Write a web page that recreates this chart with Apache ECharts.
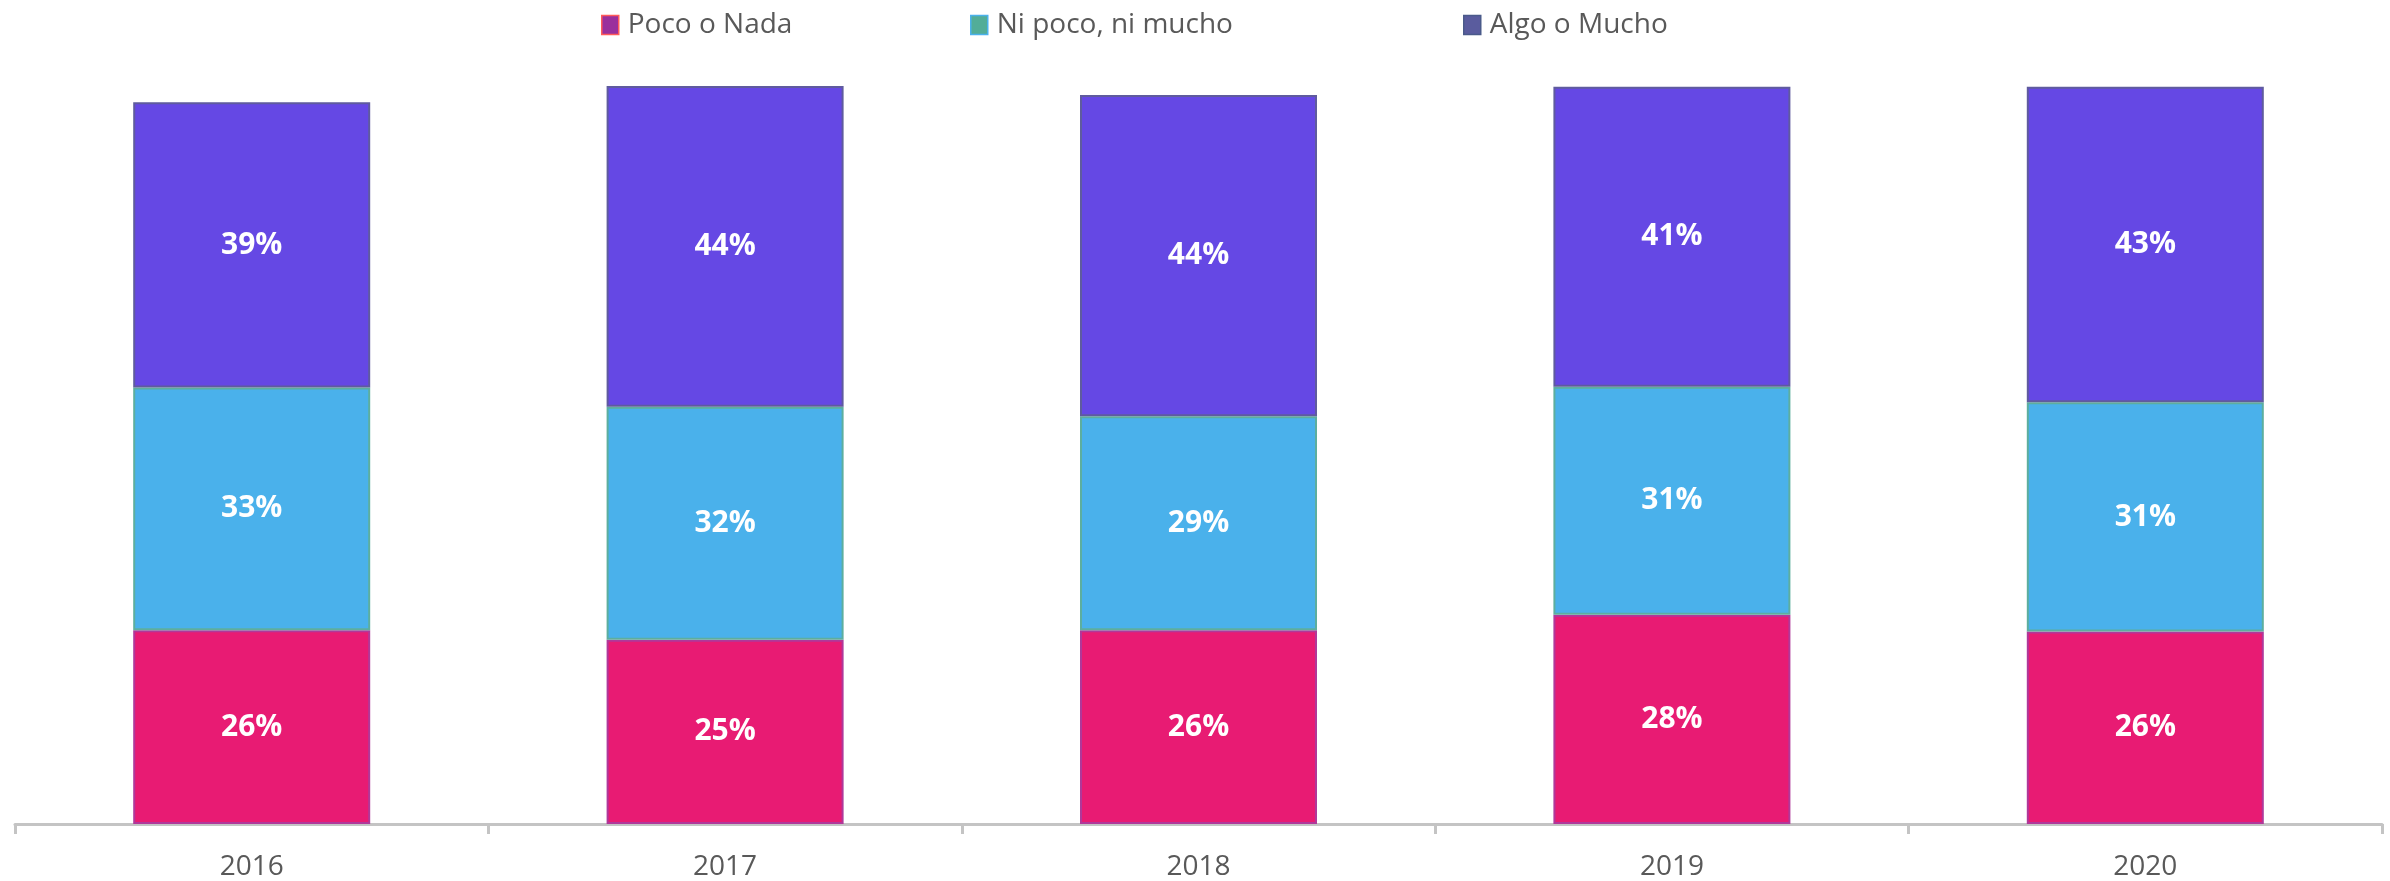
<!DOCTYPE html>
<html>
<head>
<meta charset="utf-8">
<title>Poco o Nada / Ni poco, ni mucho / Algo o Mucho</title>
<script src="https://cdn.jsdelivr.net/npm/echarts@6/dist/echarts.min.js"></script>
<style>
  html, body { margin: 0; padding: 0; background: #ffffff; }
  #main { width: 2390px; height: 881px; }
</style>
</head>
<body>
<div id="main"></div>
<script>
var years = ['2016', '2017', '2018', '2019', '2020'];
// percentages (labels are rounded)
var pocoNada = [26.3, 25.0, 26.3, 28.4, 26.1];
var niPoco = [32.9, 31.6, 29.0, 30.9, 31.1];
var algoMucho = [38.7, 43.5, 43.6, 40.7, 42.8];

var myChart = echarts.init(document.getElementById('main'));

var font = '"Open Sans", "Noto Sans", sans-serif';

function pct(p) {
    return Math.round(p.value) + '%';
}

function legendAt(left, name, fill, border) {
    return {
        left: left,
        top: 6,
        itemWidth: 17,
        itemHeight: 19,
        itemGap: 0,
        textStyle: { fontFamily: font, fontSize: 28, color: '#595959', padding: [0, 0, 0, 4] },
        data: [{ name: name, icon: 'rect', itemStyle: { color: fill, borderColor: border, borderWidth: 1.5 } }]
    };
}

function barSeries(name, data, color, edge) {
    return {
        name: name,
        type: 'bar',
        stack: 'total',
        barWidth: 237,
        data: data,
        itemStyle: { color: color, borderColor: edge, borderWidth: 2 },
        label: {
            show: true,
            position: 'inside',
            formatter: pct,
            color: '#ffffff',
            fontFamily: font,
            fontWeight: 'bold',
            fontSize: 30
        }
    };
}

var option = {
    backgroundColor: '#ffffff',
    animation: false,
    legend: [
        legendAt(596, 'Poco o Nada', '#9a2f9c', '#ff5a5a'),
        legendAt(965, 'Ni poco, ni mucho', '#52ad98', '#4ab1eb'),
        legendAt(1458, 'Algo o Mucho', '#5a5c9e', '#4a5a8a')
    ],
    grid: { left: 15, right: 8, top: 50, bottom: 57 },
    xAxis: {
        type: 'category',
        data: years,
        axisLine: { lineStyle: { color: '#c4c4c4', width: 3 } },
        axisTick: { show: true, length: 10, lineStyle: { color: '#c4c4c4', width: 3 } },
        axisLabel: { fontFamily: font, fontSize: 28, color: '#595959', margin: 29 }
    },
    yAxis: {
        type: 'value',
        min: 0,
        max: 105,
        show: false,
        splitLine: { show: false }
    },
    series: [
        barSeries('Poco o Nada', pocoNada, '#e81b73', '#b0389a'),
        barSeries('Ni poco, ni mucho', niPoco, '#4ab1eb', '#5dae9e'),
        barSeries('Algo o Mucho', algoMucho, '#6548e4', '#5f5b9e')
    ]
};

myChart.setOption(option);
</script>
</body>
</html>
